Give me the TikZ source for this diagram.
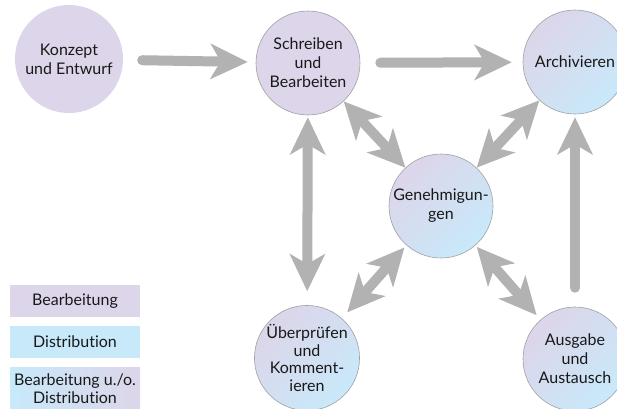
\documentclass[tikz,border=0pt]{standalone}
\usepackage{fontspec}
\setmainfont{Lato}[Ligatures=NoCommon]
\usetikzlibrary{arrows.meta}
\definecolor{purp}{RGB}{221,213,233}
\definecolor{blu}{RGB}{200,233,250}
\definecolor{arrgray}{RGB}{178,178,178}
\definecolor{rim}{RGB}{160,160,165}
\definecolor{txt}{RGB}{25,25,25}
\begin{document}
\begin{tikzpicture}[x=1pt,y=-1pt,
  font=\fontsize{16}{19}\selectfont, text=txt,
  circ/.style={circle, inner sep=0pt, align=center, minimum size=104pt, draw=rim, line width=0.6pt},
  solidc/.style={circ, fill=purp},
  gradc/.style={circ, top color=purp, bottom color=blu, shading angle=45},
  legbox/.style={rectangle, inner sep=0pt, minimum width=130pt, align=center},
  tipa/.tip={Stealth[length=37pt,width=35pt,inset=10pt]},
  arr/.style={draw=arrgray, line width=10pt, line cap=round, -tipa},
  darr/.style={draw=arrgray, line width=10pt, tipa-tipa}]
\useasboundingbox (0,0) rectangle (617,408);
\fill[white] (0,0) rectangle (617,408);

\node[circle, fill=purp, inner sep=0pt, minimum size=108pt, align=center] (kon) at (69,59) {Konzept\\und Entwurf};
\node[solidc] (sch) at (308,63) {Schreiben\\und\\Bearbeiten};
\node[gradc] (arc) at (575,62) {Archivieren};
\node[gradc] (gen) at (441,206) {Genehmigun-\\gen};
\node[gradc, minimum size=102pt, font=\fontsize{16}{17.5}\selectfont] (ueb) at (307,358) {Überprüfen\\und\\Komment-\\ieren};
\node[gradc] (aus) at (575,359) {Ausgabe\\und\\Austausch};

\node[legbox, fill=purp, minimum height=32pt] (l1) at (75,301) {Bearbeitung};
\node[legbox, fill=blu, minimum height=32pt] (l2) at (75,342) {Distribution};
\node[legbox, left color=blu, right color=purp, minimum height=43pt, font=\fontsize{16}{18}\selectfont] (l3) at (75,389) {Bearbeitung u./o.\\Distribution};

\draw[arr, shorten <=19pt, shorten >=8pt] (kon) -- (sch);
\draw[arr, shorten <=20pt, shorten >=11pt] (sch) -- (arc);
\draw[darr] (sch) -- (gen);
\draw[darr] (arc) -- (gen);
\draw[darr, shorten <=2pt, shorten >=14pt] (sch) -- (ueb);
\draw[darr, shorten <=3pt, shorten >=8pt] (gen) -- (ueb);
\draw[darr, shorten <=2pt, shorten >=6pt] (gen) -- (aus);
\draw[arr, shorten <=19pt, shorten >=3pt] (aus) -- (arc);
\end{tikzpicture}
\end{document}
